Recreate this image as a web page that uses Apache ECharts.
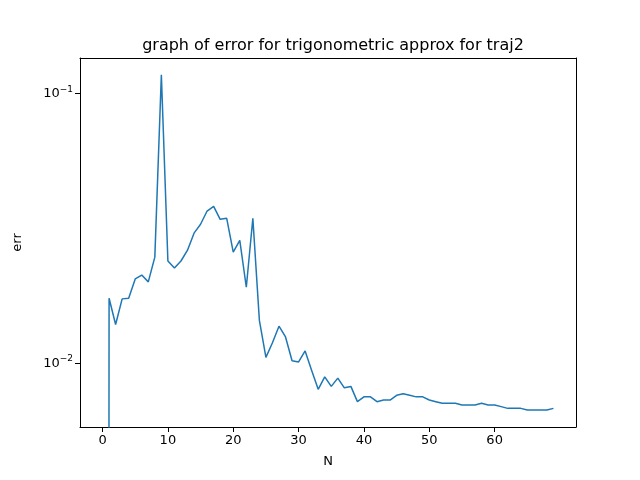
<!DOCTYPE html>
<html>
<head>
<meta charset="utf-8">
<script src="https://cdn.jsdelivr.net/npm/echarts@6/dist/echarts.min.js"></script>
<style>html,body{margin:0;padding:0;background:#fff}#chart{width:640px;height:480px}</style>
</head>
<body>
<div id="chart"></div>
<script>
const nValues = [];
for (let i = 0; i < 70; i++) nValues.push(i);
// N=0 is zero in the source; a tiny value stands in for it on the log axis
const errValues = [1e-30, 0.0174, 0.0139, 0.0173, 0.0174, 0.0205, 0.0212, 0.0200, 0.0247, 0.117,
    0.0239, 0.0225, 0.0239, 0.0262, 0.0303, 0.0327, 0.0366, 0.0381, 0.0341, 0.0344,
    0.0258, 0.0285, 0.0191, 0.0344, 0.0144, 0.0105, 0.0119, 0.0137, 0.0125, 0.0102,
    0.0101, 0.0111, 0.0094, 0.0080, 0.0089, 0.0082, 0.0088, 0.0081, 0.0082, 0.0072,
    0.0075, 0.0075, 0.0072, 0.0073, 0.0073, 0.0076, 0.0077, 0.0076, 0.0075, 0.0075,
    0.0073, 0.0072, 0.0071, 0.0071, 0.0071, 0.0070, 0.0070, 0.0070, 0.0071, 0.0070,
    0.0070, 0.0069, 0.0068, 0.0068, 0.0068, 0.0067, 0.0067, 0.0067, 0.0067, 0.0068];
const xTicks = [0, 10, 20, 30, 40, 50, 60];
const yTicks = [0.01, 0.1];

const font = 'DejaVu Sans';
const black = {color: '#000', width: 1};
const chart = echarts.init(document.getElementById('chart'));
chart.setOption({
    animation: false,
    title: {
        text: 'graph of error for trigonometric approx for traj2',
        left: 328, top: 33, textAlign: 'center',
        textStyle: {fontFamily: font, fontSize: 16, fontWeight: 'normal', color: '#000'}
    },
    grid: {left: 80, right: 64, top: 58, bottom: 53},
    xAxis: [{
        type: 'value', min: -3.45, max: 72.45,
        name: 'N', nameLocation: 'middle', nameGap: 28,
        nameTextStyle: {fontFamily: font, fontSize: 13, color: '#000'},
        splitLine: {show: false},
        axisLine: {onZero: false, lineStyle: black},
        axisTick: {customValues: xTicks, length: 5, lineStyle: black},
        axisLabel: {customValues: xTicks, fontFamily: font, fontSize: 13, color: '#000', margin: 7}
    }, {
        type: 'value', position: 'top', min: -3.45, max: 72.45,
        splitLine: {show: false},
        axisLine: {onZero: false, lineStyle: black},
        axisTick: {show: false}, axisLabel: {show: false}
    }],
    yAxis: [{
        type: 'log', logBase: 10, min: 0.0058, max: 0.135,
        name: 'err', nameLocation: 'middle', nameGap: 56,
        nameTextStyle: {fontFamily: font, fontSize: 13, color: '#000'},
        splitLine: {show: false},
        axisLine: {show: true, onZero: false, lineStyle: black},
        axisTick: {customValues: yTicks, length: 5, lineStyle: black},
        axisLabel: {
            customValues: yTicks,
            fontFamily: font, fontSize: 13, color: '#000', margin: 7,
            formatter: function (v) {
                return '10{sup|−' + Math.round(-Math.log10(v)) + '}';
            },
            rich: {sup: {fontFamily: font, fontSize: 9, verticalAlign: 'top', padding: [0, 0, 8, 0]}}
        }
    }, {
        type: 'log', logBase: 10, min: 0.0058, max: 0.135, position: 'right',
        splitLine: {show: false},
        axisLine: {show: true, onZero: false, lineStyle: black},
        axisTick: {show: false}, axisLabel: {show: false}
    }],
    series: [{
        type: 'line', showSymbol: false, clip: true,
        lineStyle: {color: '#1f77b4', width: 1.5},
        data: nValues.map((n, i) => [n, errValues[i]])
    }]
});
</script>
</body>
</html>
